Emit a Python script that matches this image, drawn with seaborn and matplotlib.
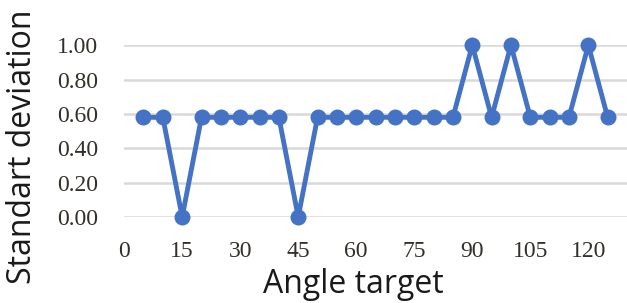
import matplotlib
matplotlib.use("Agg")
import matplotlib.pyplot as plt
import seaborn as sns
import pandas as pd

angles = [5, 10, 15, 20, 25, 30, 35, 40, 45, 50, 55, 60, 65, 70, 75, 80, 85,
          90, 95, 100, 105, 110, 115, 120, 125]
std_dev = [0.58, 0.58, 0.0, 0.58, 0.58, 0.58, 0.58, 0.58, 0.0, 0.58, 0.58, 0.58,
           0.58, 0.58, 0.58, 0.58, 0.58, 1.0, 0.58, 1.0, 0.58, 0.58, 0.58, 1.0, 0.58]
x_ticks = [0, 15, 30, 45, 60, 75, 90, 105, 120]
y_ticks = [0.0, 0.2, 0.4, 0.6, 0.8, 1.0]

df = pd.DataFrame({"angle": angles, "sd": std_dev})

sns.set_theme(style="white")
fig = plt.figure(figsize=(6.27, 3.03), dpi=100)
ax = fig.add_axes([0.198, 0.284, 0.802, 0.567])

sns.lineplot(data=df, x="angle", y="sd", ax=ax, color="#4472C4", linewidth=3.5,
             marker="o", markersize=11.5, markeredgewidth=0, clip_on=False, zorder=3)

ax.set_xlim(0, 130)
ax.set_ylim(0, 1.0)
ax.set_xticks(x_ticks)
ax.set_yticks(y_ticks)
ax.set_yticklabels([f"{v:.2f}" for v in y_ticks])
ax.grid(axis="y", color="#d9d9d9", linewidth=1.8)
ax.grid(axis="x", visible=False)
for s in ax.spines.values():
    s.set_visible(False)
ax.tick_params(axis="both", length=0, labelsize=17, colors="#33302a")
ax.tick_params(axis="y", pad=19)
ax.tick_params(axis="x", pad=17)
for lab in ax.get_xticklabels() + ax.get_yticklabels():
    lab.set_fontfamily("Liberation Serif")
ax.set_xlabel("Angle target", fontsize=23, color="#1a1a1a", family="Open Sans")
ax.set_ylabel("Standart deviation", fontsize=23, color="#1a1a1a", family="Open Sans")
ax.xaxis.set_label_coords(0.455, -0.30)
ax.yaxis.set_label_coords(-0.17, 0.41)

fig.savefig("out.png", dpi=100)
